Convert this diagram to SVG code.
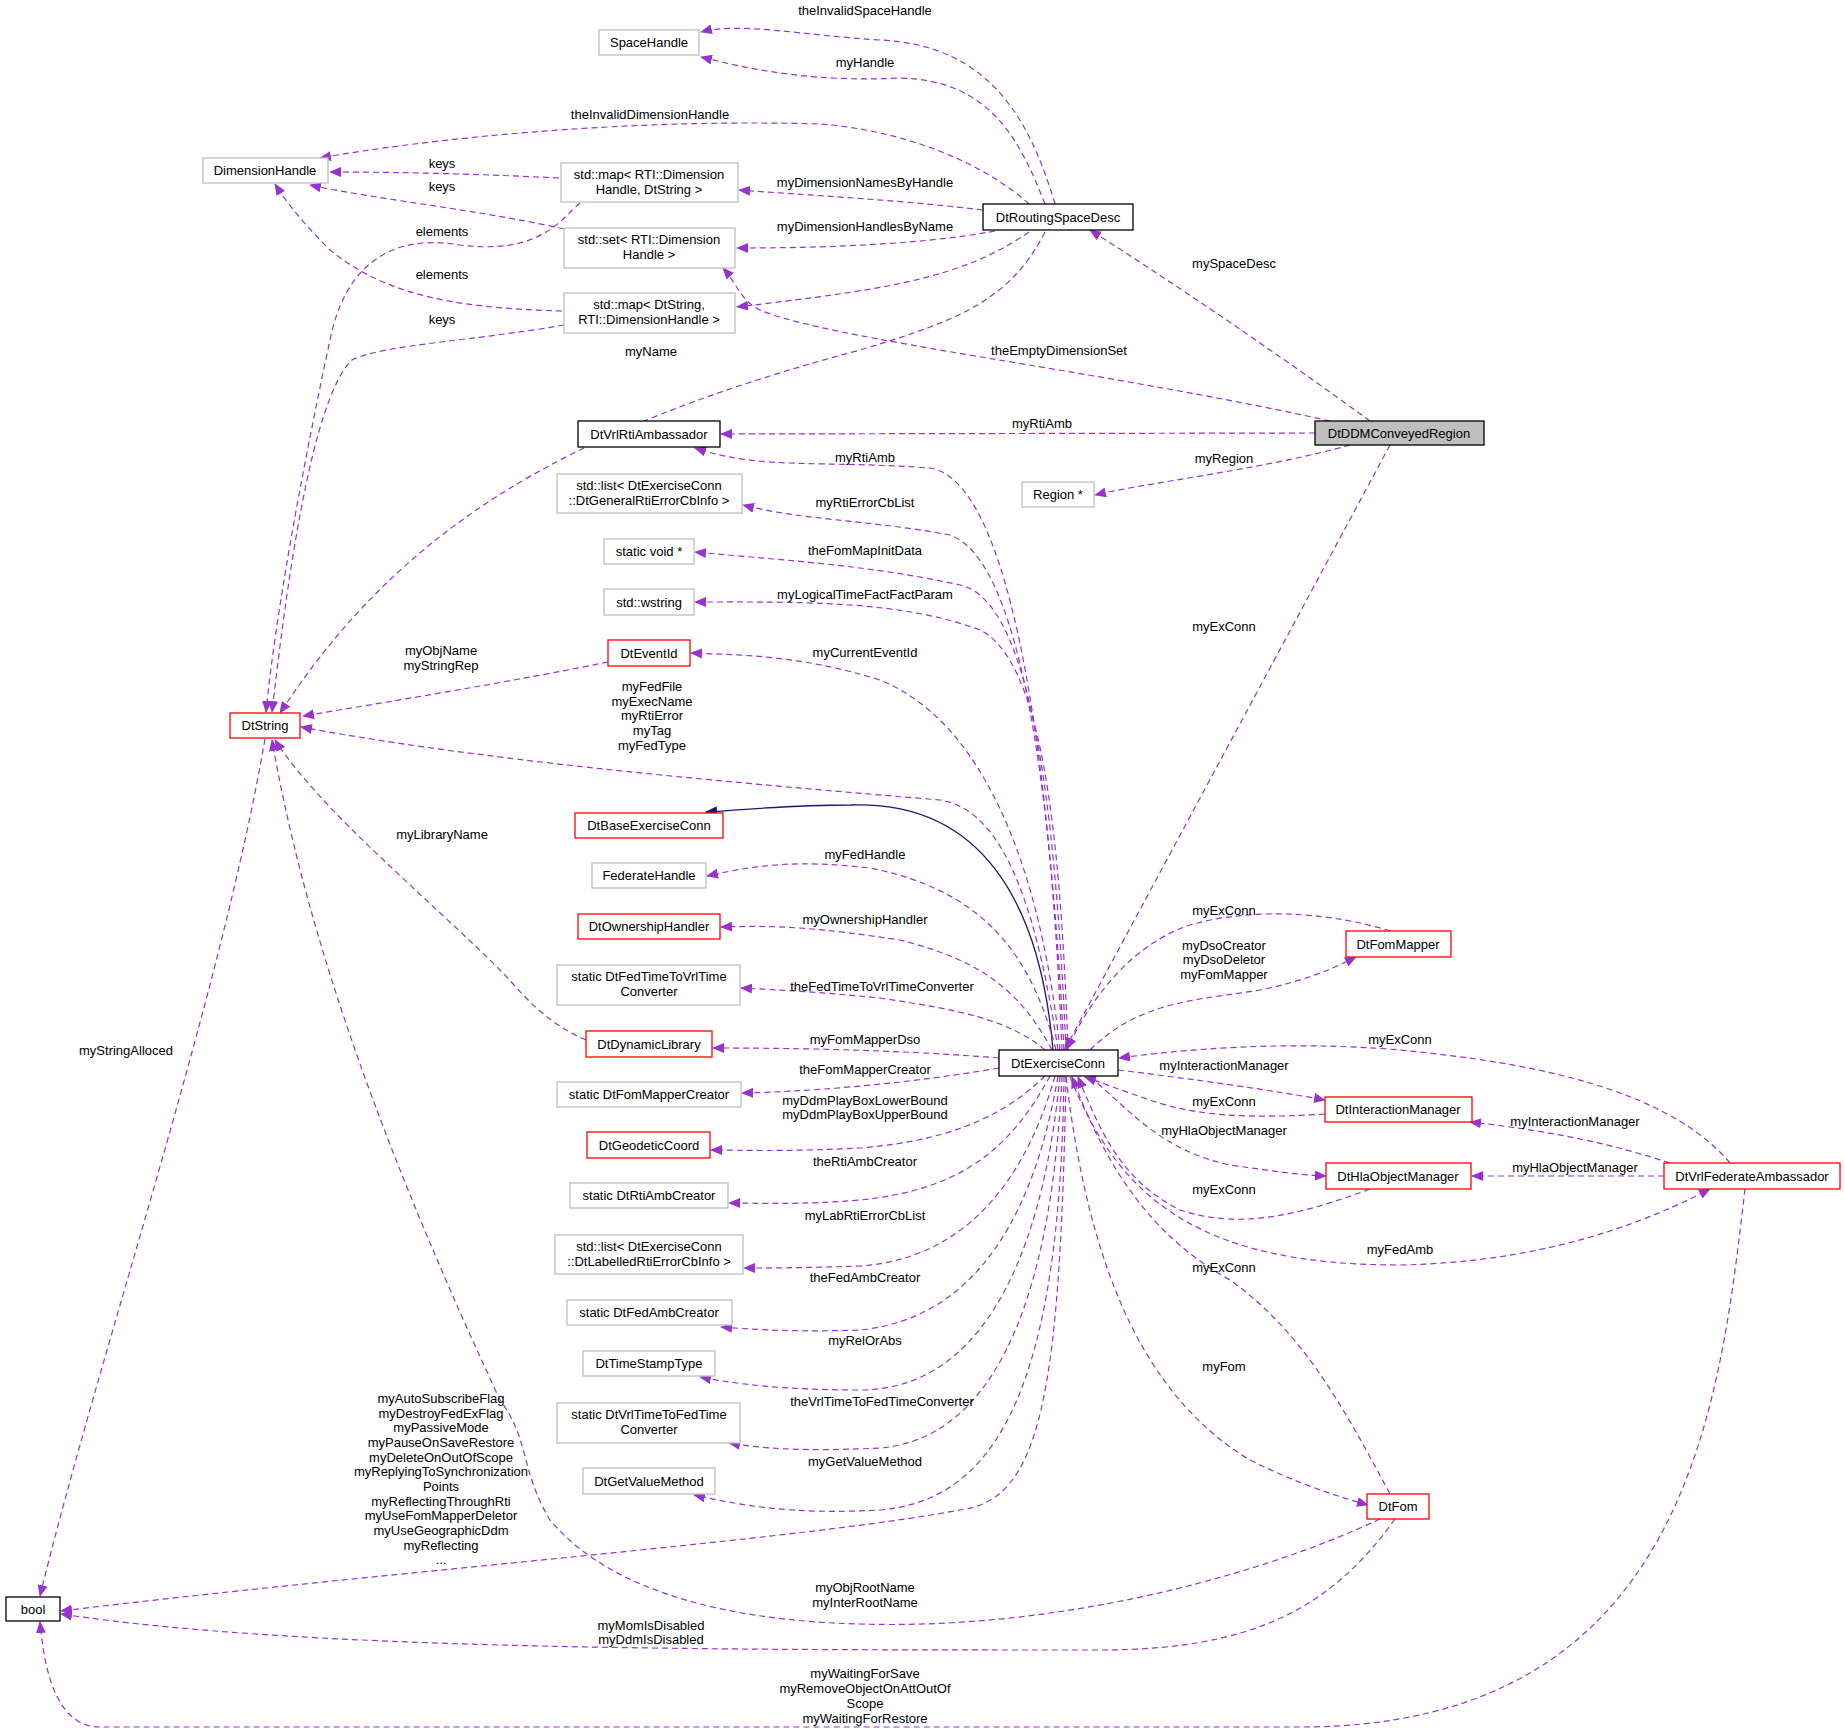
<svg xmlns="http://www.w3.org/2000/svg" width="1845" height="1733" viewBox="0 0 1845 1733">
<style>
text{font-family:"Liberation Sans",Arial,sans-serif;font-size:13px;text-anchor:middle;fill:#000}
.n rect{fill:#fff;stroke-width:1.3}
.k rect{stroke:#000}
.g rect{stroke:#bfbfbf}
.r rect{stroke:#ff0000}
.e{fill:none;stroke:#9a32cd;stroke-width:1.2;stroke-dasharray:6,4;marker-end:url(#a)}
.s{fill:none;stroke:#191970;stroke-width:1.3;marker-end:url(#b)}
</style>
<defs>
<marker id="a" markerWidth="12" markerHeight="10" refX="11" refY="5" orient="auto" markerUnits="userSpaceOnUse"><path d="M0,0L12,5L0,10z" fill="#9a32cd"/></marker>
<marker id="b" markerWidth="12" markerHeight="10" refX="11" refY="5" orient="auto" markerUnits="userSpaceOnUse"><path d="M0,0L12,5L0,10z" fill="#191970"/></marker>
</defs>
<rect width="1845" height="1733" fill="#fff"/>
<g id="edges">
<path class="e" d="M1055,204C1030,120 990,45 880,40C800,35 740,22 701,32"/>
<path class="e" d="M1045,204C1020,140 990,80 900,78C820,82 760,72 701,57"/>
<text x="865" y="15">theInvalidSpaceHandle</text>
<text x="865" y="67">myHandle</text>
<path class="e" d="M1029,204C980,160 900,130 820,124C620,118 420,140 320,158"/>
<text x="650" y="119">theInvalidDimensionHandle</text>
<path class="e" d="M559,178C480,174 400,172 330,172"/>
<text x="442" y="168">keys</text>
<path class="e" d="M564,229C480,210 380,200 310,185"/>
<text x="442" y="191">keys</text>
<path class="e" d="M562,311C440,308 380,290 330,250C300,220 285,200 275,184"/>
<text x="442" y="279">elements</text>
<path class="e" d="M580,203C560,220 540,255 460,245C370,230 340,290 330,340C300,480 275,620 266,712"/>
<text x="442" y="236">elements</text>
<path class="e" d="M564,325C480,340 380,345 352,360C310,400 285,600 272,712"/>
<text x="442" y="324">keys</text>
<path class="e" d="M983,210C900,200 820,196 739,190"/>
<text x="865" y="187">myDimensionNamesByHandle</text>
<path class="e" d="M995,231C920,245 820,248 737,248"/>
<text x="865" y="231">myDimensionHandlesByName</text>
<path class="e" d="M1029,232C960,280 880,290 737,307"/>
<text x="865" y="231" visibility="hidden"> </text>
<path class="e" d="M1045,232C1010,300 960,320 860,350C560,430 400,530 280,713"/>
<text x="651" y="356">myName</text>
<path class="e" d="M1330,421C1100,370 830,340 760,310C740,300 738,285 723,268"/>
<text x="1059" y="355">theEmptyDimensionSet</text>
<path class="e" d="M1370,421C1300,370 1200,300 1090,230"/>
<text x="1234" y="268">mySpaceDesc</text>
<path class="e" d="M1315,433L721,434"/>
<text x="1042" y="428">myRtiAmb</text>
<path class="e" d="M1350,445C1260,470 1150,482 1095,495"/>
<text x="1224" y="463">myRegion</text>
<path class="e" d="M1390,445L1065,1049"/>
<text x="1224" y="631">myExConn</text>
<path class="e" d="M1062,1050C1050,750 1010,480 930,468C820,460 760,470 695,448"/>
<text x="865" y="462">myRtiAmb</text>
<path class="e" d="M1064,1050C1050,780 1020,560 950,535C870,520 800,520 743,505"/>
<text x="865" y="507">myRtiErrorCbList</text>
<path class="e" d="M1066,1050C1055,800 1030,600 960,585C870,565 780,560 695,552"/>
<text x="865" y="555">theFomMapInitData</text>
<path class="e" d="M1068,1050C1060,820 1040,660 980,630C900,600 800,602 695,602"/>
<text x="865" y="599">myLogicalTimeFactFactParam</text>
<path class="e" d="M1060,1050C1040,860 980,720 880,680C800,655 740,655 691,653"/>
<text x="865" y="657">myCurrentEventId</text>
<path class="e" d="M1058,1050C1040,930 1010,810 940,800C700,780 480,760 301,727"/>
<text x="652" y="691">myFedFile</text>
<text x="652" y="706">myExecName</text>
<text x="652" y="720">myRtiError</text>
<text x="652" y="735">myTag</text>
<text x="652" y="750">myFedType</text>
<path class="s" d="M1053,1050C1040,900 980,800 850,805C790,805 740,810 706,812"/>
<path class="e" d="M1056,1050C1030,950 980,890 870,868C800,860 760,864 707,876"/>
<text x="865" y="859">myFedHandle</text>
<path class="e" d="M1052,1050C1020,990 980,960 900,940C820,928 780,925 721,927"/>
<text x="865" y="924">myOwnershipHandler</text>
<path class="e" d="M1045,1050C1010,1020 960,1010 880,998C820,992 780,990 741,988"/>
<text x="882" y="991">theFedTimeToVrlTimeConverter</text>
<path class="e" d="M999,1058C900,1050 800,1048 713,1048"/>
<text x="865" y="1044">myFomMapperDso</text>
<path class="e" d="M999,1068C900,1085 800,1092 742,1093"/>
<text x="865" y="1074">theFomMapperCreator</text>
<path class="e" d="M1045,1076C1010,1110 960,1140 860,1148C780,1152 740,1150 711,1150"/>
<text x="865" y="1105">myDdmPlayBoxLowerBound</text>
<text x="865" y="1119">myDdmPlayBoxUpperBound</text>
<path class="e" d="M1050,1076C1010,1150 960,1190 860,1200C800,1205 760,1203 729,1203"/>
<text x="865" y="1166">theRtiAmbCreator</text>
<path class="e" d="M1055,1076C1020,1200 950,1260 860,1266C800,1268 770,1268 744,1268"/>
<text x="865" y="1220">myLabRtiErrorCbList</text>
<path class="e" d="M1058,1076C1030,1240 960,1320 860,1330C800,1332 760,1330 721,1327"/>
<text x="865" y="1282">theFedAmbCreator</text>
<path class="e" d="M1060,1076C1040,1280 970,1390 860,1390C790,1390 740,1385 700,1377"/>
<text x="865" y="1345">myRelOrAbs</text>
<path class="e" d="M1062,1076C1050,1330 980,1440 880,1448C800,1452 760,1448 729,1443"/>
<text x="882" y="1406">theVrlTimeToFedTimeConverter</text>
<path class="e" d="M1064,1076C1060,1380 1000,1500 880,1510C790,1515 740,1505 694,1495"/>
<text x="865" y="1466">myGetValueMethod</text>
<path class="e" d="M1066,1076C1060,1400 1040,1500 960,1510C800,1540 400,1570 61,1611"/>
<text x="441" y="1403">myAutoSubscribeFlag</text>
<text x="441" y="1418">myDestroyFedExFlag</text>
<text x="441" y="1432">myPassiveMode</text>
<text x="441" y="1447">myPauseOnSaveRestore</text>
<text x="441" y="1462">myDeleteOnOutOfScope</text>
<text x="441" y="1476">myReplyingToSynchronization</text>
<text x="441" y="1491">Points</text>
<text x="441" y="1506">myReflectingThroughRti</text>
<text x="441" y="1520">myUseFomMapperDeletor</text>
<text x="441" y="1535">myUseGeographicDdm</text>
<text x="441" y="1550">myReflecting</text>
<text x="441" y="1564">...</text>
<path class="e" d="M1390,931C1340,915 1260,905 1190,925C1130,945 1090,1000 1067,1049"/>
<text x="1224" y="915">myExConn</text>
<path class="e" d="M1090,1050C1140,1000 1200,1000 1260,990C1310,980 1340,965 1356,957"/>
<text x="1224" y="950">myDsoCreator</text>
<text x="1224" y="964">myDsoDeletor</text>
<text x="1224" y="979">myFomMapper</text>
<path class="e" d="M1118,1070C1200,1080 1270,1090 1325,1100"/>
<text x="1224" y="1070">myInteractionManager</text>
<path class="e" d="M1325,1114C1260,1118 1200,1118 1150,1100C1120,1090 1100,1082 1085,1077"/>
<text x="1224" y="1106">myExConn</text>
<path class="e" d="M1090,1077C1130,1110 1160,1150 1230,1165C1280,1172 1300,1175 1326,1176"/>
<text x="1224" y="1135">myHlaObjectManager</text>
<path class="e" d="M1370,1189C1300,1215 1240,1230 1180,1210C1120,1180 1100,1130 1078,1077"/>
<text x="1224" y="1194">myExConn</text>
<path class="e" d="M1070,1077C1120,1200 1200,1265 1400,1265C1550,1262 1650,1220 1710,1189"/>
<text x="1400" y="1254">myFedAmb</text>
<path class="e" d="M1730,1163C1660,1080 1500,1060 1400,1050C1280,1040 1180,1050 1119,1058"/>
<text x="1400" y="1044">myExConn</text>
<path class="e" d="M1670,1163C1600,1140 1540,1130 1470,1122"/>
<text x="1575" y="1126">myInteractionManager</text>
<path class="e" d="M1664,1176L1472,1176"/>
<text x="1575" y="1172">myHlaObjectManager</text>
<path class="e" d="M1390,1494C1340,1400 1300,1330 1230,1280C1140,1230 1100,1150 1072,1077"/>
<text x="1224" y="1272">myExConn</text>
<path class="e" d="M1066,1077C1090,1280 1150,1400 1250,1460C1300,1485 1340,1497 1368,1505"/>
<text x="1224" y="1371">myFom</text>
<path class="e" d="M1380,1519C1250,1580 1050,1630 860,1624C700,1620 600,1580 550,1520C520,1470 530,1440 500,1400C360,1100 300,900 272,740"/>
<text x="865" y="1592">myObjRootName</text>
<text x="865" y="1607">myInterRootName</text>
<path class="e" d="M1395,1519C1330,1610 1250,1650 1100,1650C700,1650 300,1650 61,1614"/>
<text x="651" y="1630">myMomIsDisabled</text>
<text x="651" y="1644">myDdmIsDisabled</text>
<path class="e" d="M1745,1189C1720,1400 1690,1727 1300,1727C800,1727 300,1727 100,1727C60,1727 45,1680 40,1622"/>
<text x="865" y="1678">myWaitingForSave</text>
<text x="865" y="1693">myRemoveObjectOnAttOutOf</text>
<text x="865" y="1708">Scope</text>
<text x="865" y="1723">myWaitingForRestore</text>
<path class="e" d="M586,1040C540,1020 520,990 500,970C430,900 320,810 275,740"/>
<text x="442" y="839">myLibraryName</text>
<path class="e" d="M608,662C520,680 400,700 303,716"/>
<text x="441" y="655">myObjName</text>
<text x="441" y="670">myStringRep</text>
<path class="e" d="M265,739C220,1000 100,1350 40,1596"/>
<text x="126" y="1055">myStringAlloced</text>
</g>
<g id="SpaceHandle" class="n g"><rect x="599" y="30" width="100" height="25"/><text x="649" y="47">SpaceHandle</text></g>
<g id="DimensionHandle" class="n g"><rect x="203" y="158" width="125" height="25"/><text x="265" y="175">DimensionHandle</text></g>
<g id="mapRTI" class="n g"><rect x="561" y="163" width="177" height="39"/><text x="649" y="179">std::map&lt; RTI::Dimension</text><text x="649" y="194">Handle, DtString &gt;</text></g>
<g id="DtRoutingSpaceDesc" class="n k"><rect x="983" y="204" width="150" height="26"/><text x="1058" y="222">DtRoutingSpaceDesc</text></g>
<g id="setRTI" class="n g"><rect x="564" y="228" width="171" height="40"/><text x="649" y="244">std::set&lt; RTI::Dimension</text><text x="649" y="259">Handle &gt;</text></g>
<g id="mapDtString" class="n g"><rect x="564" y="293" width="171" height="40"/><text x="649" y="309">std::map&lt; DtString,</text><text x="649" y="324">RTI::DimensionHandle &gt;</text></g>
<g id="DtVrlRtiAmbassador" class="n k"><rect x="578" y="421" width="142" height="26"/><text x="649" y="439">DtVrlRtiAmbassador</text></g>
<g id="DtDDMConveyedRegion" class="n"><rect x="1315" y="421" width="169" height="24" fill="#bfbfbf" style="fill:#bfbfbf" stroke="#000"/><text x="1399" y="438">DtDDMConveyedRegion</text></g>
<g id="listGeneral" class="n g"><rect x="557" y="474" width="185" height="39"/><text x="649" y="490">std::list&lt; DtExerciseConn</text><text x="649" y="505">::DtGeneralRtiErrorCbInfo &gt;</text></g>
<g id="Region" class="n g"><rect x="1022" y="482" width="72" height="25"/><text x="1058" y="499">Region *</text></g>
<g id="staticvoid" class="n g"><rect x="604" y="539" width="90" height="25"/><text x="649" y="556">static void *</text></g>
<g id="wstring" class="n g"><rect x="604" y="589" width="90" height="26"/><text x="649" y="607">std::wstring</text></g>
<g id="DtEventId" class="n r"><rect x="608" y="640" width="82" height="26"/><text x="649" y="658">DtEventId</text></g>
<g id="DtString" class="n r"><rect x="230" y="713" width="70" height="25"/><text x="265" y="730">DtString</text></g>
<g id="DtBaseExerciseConn" class="n r"><rect x="575" y="813" width="148" height="25"/><text x="649" y="830">DtBaseExerciseConn</text></g>
<g id="FederateHandle" class="n g"><rect x="592" y="863" width="114" height="25"/><text x="649" y="880">FederateHandle</text></g>
<g id="DtOwnershipHandler" class="n r"><rect x="578" y="914" width="142" height="25"/><text x="649" y="931">DtOwnershipHandler</text></g>
<g id="FedTimeToVrl" class="n g"><rect x="557" y="965" width="183" height="40"/><text x="649" y="981">static DtFedTimeToVrlTime</text><text x="649" y="996">Converter</text></g>
<g id="DtDynamicLibrary" class="n r"><rect x="586" y="1031" width="126" height="26"/><text x="649" y="1049">DtDynamicLibrary</text></g>
<g id="FomMapperCreator" class="n g"><rect x="557" y="1082" width="184" height="25"/><text x="649" y="1099">static DtFomMapperCreator</text></g>
<g id="DtGeodeticCoord" class="n r"><rect x="587" y="1132" width="123" height="26"/><text x="649" y="1150">DtGeodeticCoord</text></g>
<g id="RtiAmbCreator" class="n g"><rect x="570" y="1183" width="158" height="25"/><text x="649" y="1200">static DtRtiAmbCreator</text></g>
<g id="listLabelled" class="n g"><rect x="555" y="1235" width="188" height="39"/><text x="649" y="1251">std::list&lt; DtExerciseConn</text><text x="649" y="1266">::DtLabelledRtiErrorCbInfo &gt;</text></g>
<g id="FedAmbCreator" class="n g"><rect x="567" y="1300" width="165" height="25"/><text x="649" y="1317">static DtFedAmbCreator</text></g>
<g id="DtTimeStampType" class="n g"><rect x="583" y="1351" width="132" height="25"/><text x="649" y="1368">DtTimeStampType</text></g>
<g id="VrlTimeToFed" class="n g"><rect x="557" y="1403" width="183" height="40"/><text x="649" y="1419">static DtVrlTimeToFedTime</text><text x="649" y="1434">Converter</text></g>
<g id="DtGetValueMethod" class="n g"><rect x="583" y="1468" width="132" height="26"/><text x="649" y="1486">DtGetValueMethod</text></g>
<g id="DtExerciseConn" class="n k"><rect x="999" y="1050" width="119" height="26"/><text x="1058" y="1068">DtExerciseConn</text></g>
<g id="DtFomMapper" class="n r"><rect x="1346" y="931" width="105" height="26"/><text x="1398" y="949">DtFomMapper</text></g>
<g id="DtInteractionManager" class="n r"><rect x="1325" y="1097" width="147" height="25"/><text x="1398" y="1114">DtInteractionManager</text></g>
<g id="DtHlaObjectManager" class="n r"><rect x="1326" y="1163" width="145" height="26"/><text x="1398" y="1181">DtHlaObjectManager</text></g>
<g id="DtVrlFederateAmbassador" class="n r"><rect x="1664" y="1163" width="176" height="26"/><text x="1752" y="1181">DtVrlFederateAmbassador</text></g>
<g id="DtFom" class="n r"><rect x="1367" y="1494" width="62" height="25"/><text x="1398" y="1511">DtFom</text></g>
<g id="bool" class="n k"><rect x="6" y="1597" width="54" height="24"/><text x="33" y="1614">bool</text></g>
</svg>
